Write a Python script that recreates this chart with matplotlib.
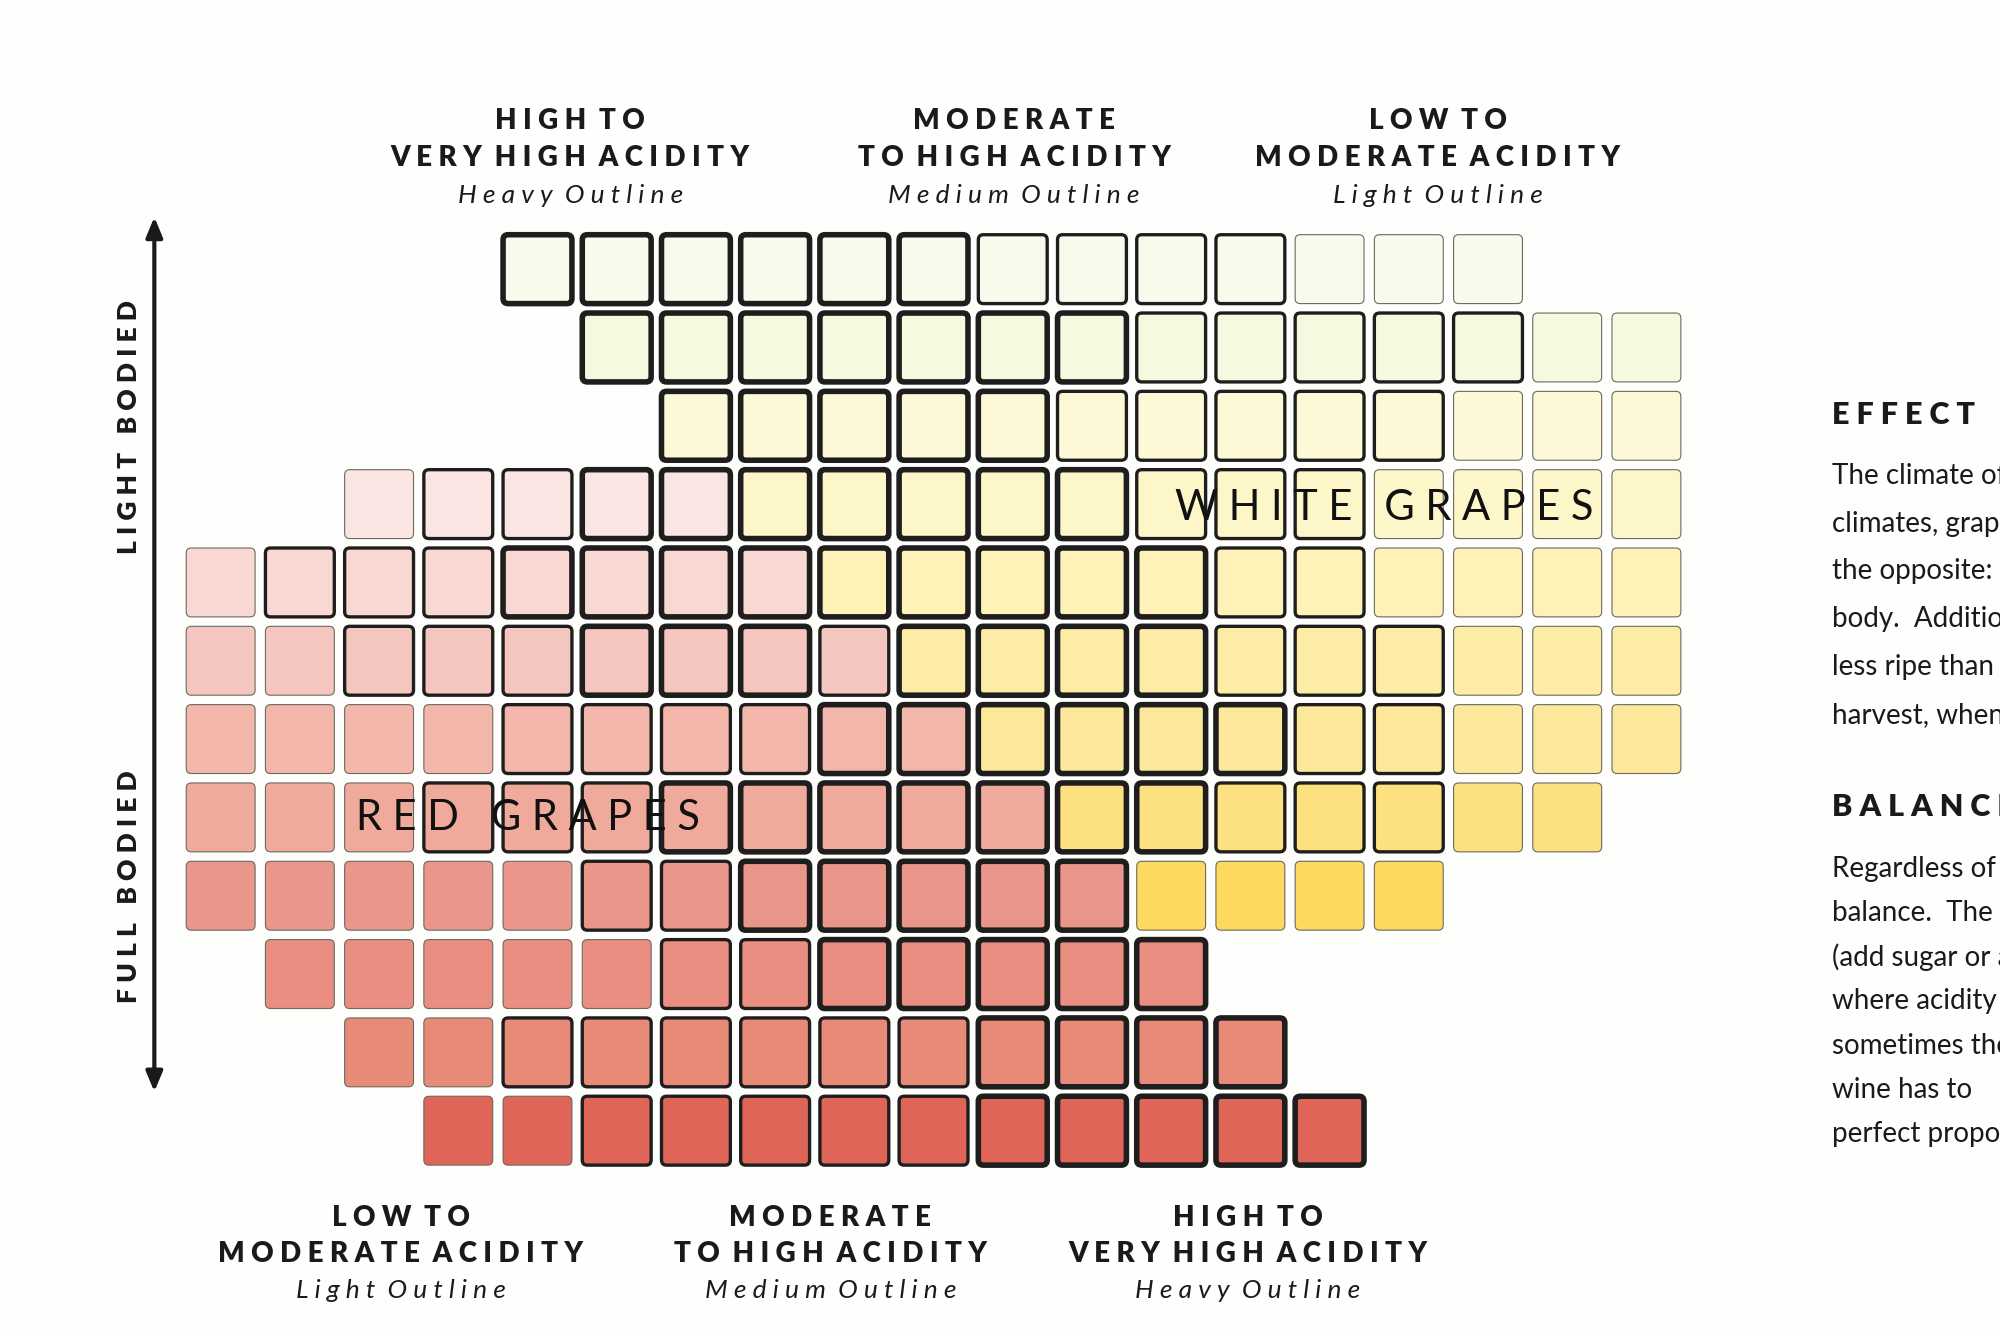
import matplotlib
matplotlib.use("Agg")
import matplotlib.pyplot as plt
from matplotlib.patches import FancyBboxPatch

# grid rows (top = light bodied). each cell "tw": t = W white / r red, w = L light, M medium, H heavy outline
ROWS = [
    ".. .. .. .. WH WH WH WH WH WH WM WM WM WM WL WL WL .. ..",
    ".. .. .. .. .. WH WH WH WH WH WH WH WM WM WM WM WM WL WL",
    ".. .. .. .. .. .. WH WH WH WH WH WM WM WM WM WM WL WL WL",
    ".. .. rL rM rM rH rH WH WH WH WH WH WM WM WM WL WL WL WL",
    "rL rM rM rM rH rH rH rH WH WH WH WH WH WM WM WL WL WL WL",
    "rL rL rM rM rM rH rH rH rM WH WH WH WH WM WM WM WL WL WL",
    "rL rL rL rL rM rM rM rM rH rH WH WH WH WH WM WM WL WL WL",
    "rL rL rL rM rM rM rH rH rH rH rH WH WH WM WM WM WL WL ..",
    "rL rL rL rL rL rM rM rH rH rH rH rH WL WL WL WL .. .. ..",
    ".. rL rL rL rL rL rM rM rH rH rH rH rH .. .. .. .. .. ..",
    ".. .. rL rL rM rM rM rM rM rM rH rH rH rH .. .. .. .. ..",
    ".. .. .. rL rL rM rM rM rM rM rH rH rH rH rH .. .. .. ..",
]
WHITE_COLORS = ["#f9faec", "#f7f8e0", "#fdf9d6", "#fdf6c8", "#fef2b8",
                "#fdeca6", "#fde79a", "#fde07f", "#fdd95f", "#fdd95f", "#fdd95f", "#fdd95f"]
RED_COLORS = ["#fbe5e3", "#fbe5e3", "#fbe5e3", "#fbe5e3", "#f9d7d3", "#f5c6c0",
              "#f2b6ab", "#efaa9c", "#ea968a", "#e98e80", "#e88a78", "#df6558"]
WEIGHTS = {"L": 0.8, "M": 2.4, "H": 4.0}
EDGES = {"L": "#6a6a60", "M": "#1e1e1e", "H": "#1e1e1e"}

TOP_LABELS = [("HIGH TO", "VERY HIGH ACIDITY", "Heavy Outline"),
              ("MODERATE", "TO HIGH ACIDITY", "Medium Outline"),
              ("LOW TO", "MODERATE ACIDITY", "Light Outline")]
BOTTOM_LABELS = [("LOW TO", "MODERATE ACIDITY", "Light Outline"),
                 ("MODERATE", "TO HIGH ACIDITY", "Medium Outline"),
                 ("HIGH TO", "VERY HIGH ACIDITY", "Heavy Outline")]
SIDE_TEXT = [("EFFECT OF CLIMATE", ["The climate of a region", "climates, grapes ripen",
              "the opposite: more sugar,", "body.  Additionally,", "less ripe than those",
              "harvest, when"]),
             ("BALANCE", ["Regardless of climate", "balance.  The winemaker", "(add sugar or acid)",
              "where acidity is", "sometimes the", "wine has to", "perfect proportions"])]

W, H = 1568, 1045
fig = plt.figure(figsize=(20, 13.33), dpi=100)
fig.patch.set_facecolor("#fefefc")
ax = fig.add_axes([0, 0, 1, 1])
ax.set_xlim(0, W)
ax.set_ylim(H, 0)
ax.axis("off")

x0, y0, step, size = 146, 184, 62.1, 54
for r, row in enumerate(ROWS):
    for c, cell in enumerate(row.split()):
        if cell == "..":
            continue
        kind, w = cell[0], cell[1]
        fc = WHITE_COLORS[r] if kind == "W" else RED_COLORS[r]
        ax.add_patch(FancyBboxPatch((x0 + c * step, y0 + r * 61.4), size, size,
                                    boxstyle="round,pad=0,rounding_size=4",
                                    fc=fc, ec=EDGES[w], lw=WEIGHTS[w], zorder=2 + (w == "H")))

ax.text(1085, 398, "W H I T E   G R A P E S", fontsize=30, family="Lato",
        fontweight="normal", color="#111111", ha="center", va="center", zorder=5)
ax.text(414, 641, "R E D   G R A P E S", fontsize=30, family="Lato",
        fontweight="normal", color="#111111", ha="center", va="center", zorder=5)


def label_block(cx, ys, lines):
    for y, txt, style in zip(ys, lines, ["b", "b", "i"]):
        if style == "b":
            ax.text(cx, y, " ".join(txt).replace("   ", "  "), fontsize=20, family="Lato",
                    fontweight="heavy", ha="center", va="center", color="#1a1a1a")
        else:
            ax.text(cx, y, " ".join(txt).replace("   ", "  "), fontsize=19, family="Lato",
                    style="italic", ha="center", va="center", color="#1a1a1a")


for cx, lines in zip([447, 795, 1127], TOP_LABELS):
    label_block(cx, [95, 124, 153], lines)
for cx, lines in zip([314, 651, 978], BOTTOM_LABELS):
    label_block(cx, [955, 983, 1012], lines)

ax.annotate("", xy=(121, 168), xytext=(121, 858),
            arrowprops=dict(arrowstyle="<|-|>,head_length=1.2,head_width=0.5",
                            lw=3, color="#1a1a1a"))
ax.text(101, 335, "L I G H T   B O D I E D", rotation=90, fontsize=19, family="Lato",
        fontweight="heavy", ha="center", va="center", color="#1a1a1a")
ax.text(101, 695, "F U L L   B O D I E D", rotation=90, fontsize=19, family="Lato",
        fontweight="heavy", ha="center", va="center", color="#1a1a1a")

# right-hand column is cropped by the image edge in the reference
for (title, lines), ty in zip(SIDE_TEXT, [325, 633]):
    ax.text(1436, ty, "  ".join(title.split()).replace("", " ").strip(), fontsize=22,
            family="Lato", fontweight="heavy", va="center", color="#1a1a1a", clip_on=True)
    for i, line in enumerate(lines):
        ax.text(1436, ty + 48 + i * (37.5 if ty < 500 else 34.7), line, fontsize=20,
                family="Lato", va="center", color="#1a1a1a", clip_on=True)

fig.savefig("out.png", dpi=100)
